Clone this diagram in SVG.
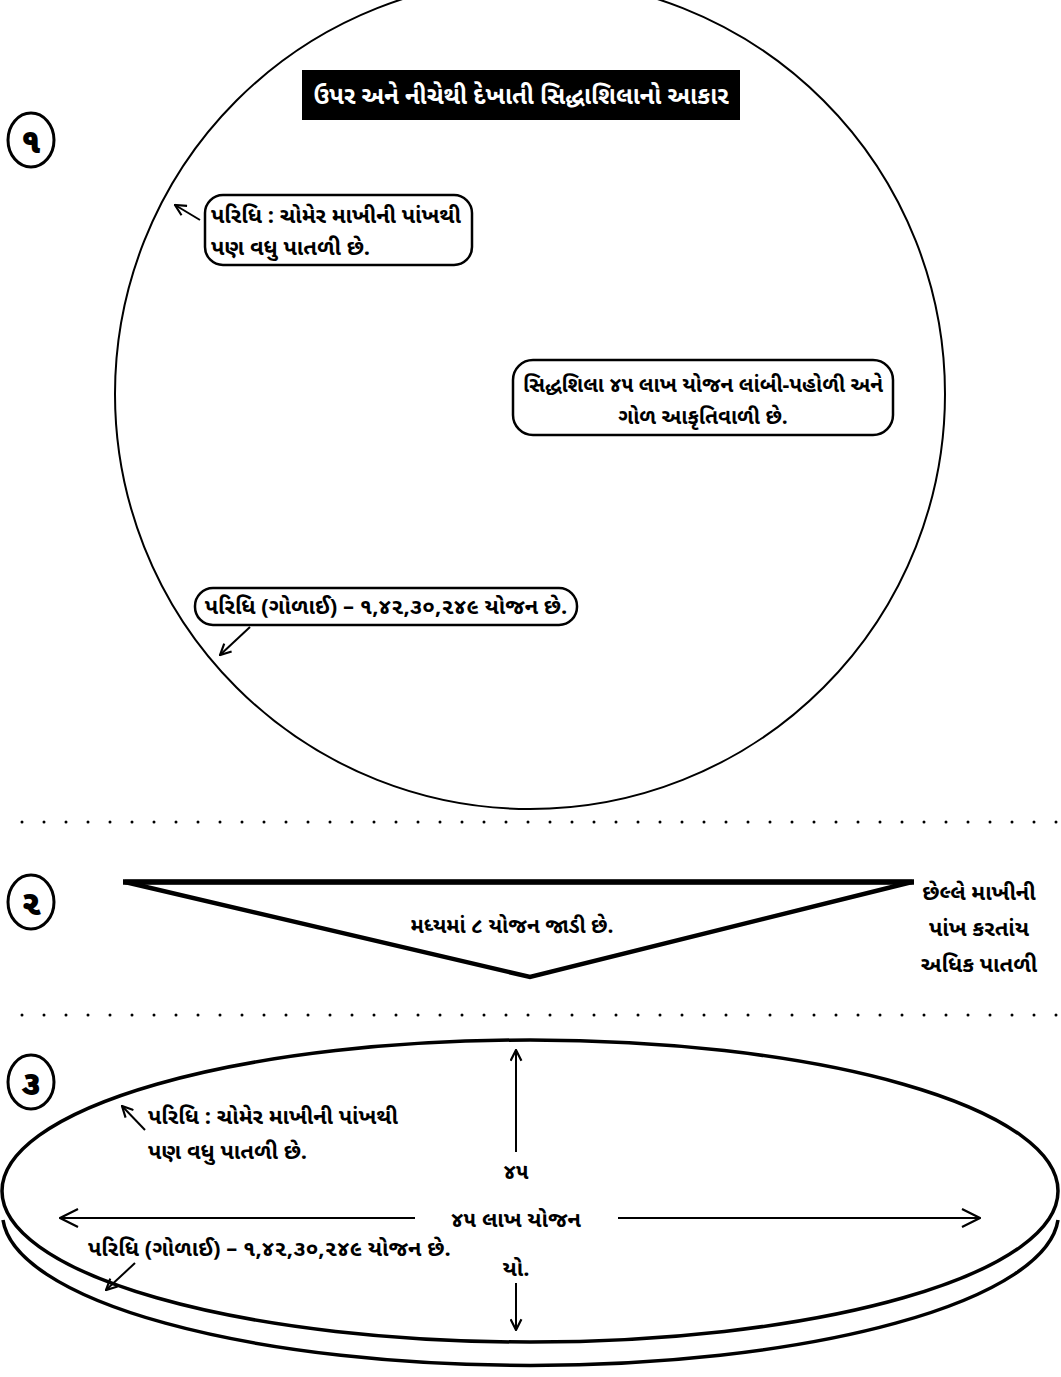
<svg xmlns="http://www.w3.org/2000/svg" width="1061" height="1377" viewBox="0 0 1061 1377">
<defs>
<style>
text{font-family:"Noto Sans Gujarati","Lohit Gujarati","Shruti","Noto Sans",sans-serif;font-weight:bold;fill:#000}
.t{font-size:22px}
.c{text-anchor:middle}
.num{font-size:34px;text-anchor:middle;font-weight:900}
.box{fill:#fff;stroke:#000;stroke-width:2.5}
.ln{fill:none;stroke:#000;stroke-width:2}
.dot{stroke:#000;stroke-width:3;stroke-linecap:round;stroke-dasharray:0 22}
.nc{fill:#fff;stroke:#000;stroke-width:3}
</style>
<marker id="ah" viewBox="0 0 12 12" refX="11" refY="6" markerWidth="13" markerHeight="13" markerUnits="userSpaceOnUse" orient="auto">
<path d="M1,1 L11,6 L1,11" fill="none" stroke="#000" stroke-width="2"/>
</marker>
<marker id="ah2" viewBox="0 0 20 20" refX="19" refY="10" markerWidth="20" markerHeight="20" markerUnits="userSpaceOnUse" orient="auto">
<path d="M1,1 L19,10 L1,19" fill="none" stroke="#000" stroke-width="2.2"/>
</marker>
</defs>
<rect width="1061" height="1377" fill="#fff"/>

<g id="section1">
<circle id="disc-top" cx="530" cy="394" r="415" fill="none" stroke="#000" stroke-width="2"/>
<g id="title">
<rect x="302" y="70" width="438" height="50" fill="#000"/>
<text x="521" y="104" class="c" style="font-size:24px;fill:#fff">ઉપર અને નીચેથી દેખાતી સિદ્ધાશિલાનો આકાર</text>
</g>
<g id="num1">
<ellipse class="nc" cx="31" cy="140" rx="23" ry="27"/>
<text x="31" y="153" class="num">૧</text>
</g>
<g id="note1">
<rect class="box" x="205" y="195" width="267" height="70" rx="18"/>
<text x="211" y="223" class="t">પરિધિ : ચોમેર માખીની પાંખથી</text>
<text x="211" y="255" class="t">પણ વધુ પાતળી છે.</text>
</g>
<g id="note2">
<rect class="box" x="513" y="360" width="380" height="75" rx="20"/>
<text x="703" y="392" class="c" style="font-size:21px">સિદ્ધશિલા ૪૫ લાખ યોજન લાંબી-પહોળી અને</text>
<text x="703" y="424" class="c" style="font-size:21px">ગોળ આકૃતિવાળી છે.</text>
</g>
<g id="note3">
<rect class="box" x="195" y="588" width="382" height="37" rx="18"/>
<text x="386" y="614" class="t c">પરિધિ (ગોળાઈ) – ૧,૪૨,૩૦,૨૪૯ યોજન છે.</text>
</g>
</g>

<line class="dot" x1="22" y1="822" x2="1061" y2="822"/>

<g id="section2">
<g id="num2">
<ellipse class="nc" cx="31" cy="902" rx="23" ry="27"/>
<text x="31" y="915" class="num">૨</text>
</g>
<polygon id="section-triangle" points="125,882 912,882 530,977" fill="none" stroke="#000" stroke-width="4.5" stroke-linejoin="miter"/>
<line x1="123" y1="882" x2="914" y2="882" stroke="#000" stroke-width="5.5"/>
<text x="512" y="933" class="c" style="font-size:21px">મધ્યમાં ૮ યોજન જાડી છે.</text>
<g id="edge-note">
<text x="979" y="900" class="c" style="font-size:22px">છેલ્લે માખીની</text>
<text x="979" y="936" class="c" style="font-size:22px">પાંખ કરતાંય</text>
<text x="979" y="972" class="c" style="font-size:22px">અધિક પાતળી</text>
</g>
</g>

<line class="dot" x1="22" y1="1015" x2="1061" y2="1015"/>

<g id="section3">
<g id="num3">
<ellipse class="nc" cx="31" cy="1082" rx="23" ry="27"/>
<text x="31" y="1095" class="num">૩</text>
</g>
<g id="disc-side">
<path d="M3,1220 A528 152 0 0 0 1058 1220" fill="none" stroke="#000" stroke-width="3.5"/>
<ellipse cx="530" cy="1191" rx="528" ry="151" fill="none" stroke="#000" stroke-width="3.5"/>
</g>
<text x="148" y="1124" class="t">પરિધિ : ચોમેર માખીની પાંખથી</text>
<text x="148" y="1159" class="t">પણ વધુ પાતળી છે.</text>
<text x="516" y="1179" class="t c">૪૫</text>
<text x="516" y="1227" class="t c">૪૫ લાખ યોજન</text>
<text x="516" y="1276" class="t c">યો.</text>
<text x="88" y="1256" class="t">પરિધિ (ગોળાઈ) – ૧,૪૨,૩૦,૨૪૯ યોજન છે.</text>
</g>

<g id="connectors">
<line class="ln" x1="200" y1="220" x2="175" y2="205" marker-end="url(#ah)"/>
<line class="ln" x1="250" y1="627" x2="220" y2="655" marker-end="url(#ah)"/>
<line class="ln" x1="145" y1="1130" x2="122" y2="1106" marker-end="url(#ah)"/>
<line class="ln" x1="135" y1="1263" x2="106" y2="1290" marker-end="url(#ah)"/>
<line class="ln" x1="516" y1="1152" x2="516" y2="1050" marker-end="url(#ah)"/>
<line class="ln" x1="516" y1="1283" x2="516" y2="1330" marker-end="url(#ah)"/>
<line class="ln" x1="415" y1="1218" x2="60" y2="1218" marker-end="url(#ah2)"/>
<line class="ln" x1="618" y1="1218" x2="980" y2="1218" marker-end="url(#ah2)"/>
</g>
</svg>
